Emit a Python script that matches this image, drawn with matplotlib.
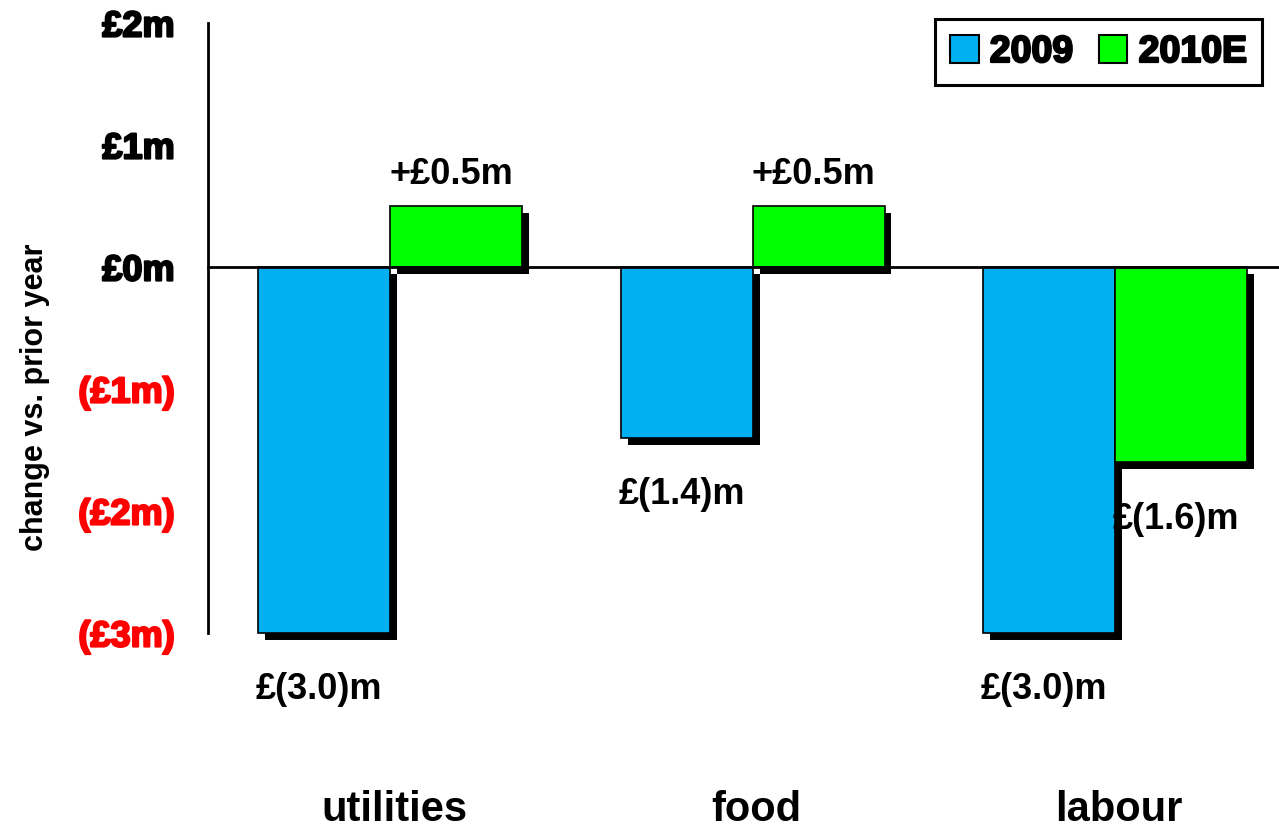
import matplotlib
matplotlib.use("Agg")
import matplotlib.pyplot as plt
import matplotlib.patheffects as pe
import numpy as np

categories = ["utilities", "food", "labour"]
series_names = ["2009", "2010E"]
values_2009 = [-3.0, -1.4, -3.0]
values_2010 = [0.5, 0.5, -1.6]
labels_2009 = ["£(3.0)m", "£(1.4)m", "£(3.0)m"]
labels_2010 = ["+£0.5m", "+£0.5m", "£(1.6)m"]
ytick_values = [2, 1, 0, -1, -2, -3]
ytick_labels = ["£2m", "£1m", "£0m", "(£1m)", "(£2m)", "(£3m)"]
ytick_colors = ["black", "black", "black", "red", "red", "red"]

BLUE = "#00B0F0"
GREEN = "#00FF00"
FONT = "Liberation Sans"

fig = plt.figure(figsize=(12.79, 8.29), dpi=100)
ax = fig.add_axes([208 / 1279, 1 - 634 / 829, 1 - 208 / 1279, (634 - 24) / 829])

x = np.arange(len(categories))
w = 0.364
shadow = [pe.SimplePatchShadow(offset=(5, -5), shadow_rgbFace="black", alpha=1.0), pe.Normal()]

b1 = ax.bar(x - w / 2, values_2009, w, color=BLUE, edgecolor="black", linewidth=1.2,
            label=series_names[0], zorder=2, clip_on=False)
b2 = ax.bar(x + w / 2, values_2010, w, color=GREEN, edgecolor="black", linewidth=1.2,
            label=series_names[1], zorder=3, clip_on=False)
for bars in (b1, b2):
    for r in bars:
        r.set_path_effects(shadow)

ax.axhline(0, color="black", linewidth=2, zorder=4, clip_on=False)

ax.set_xlim(-0.502, 2.452)
ax.set_ylim(-3, 2)

for s in ["top", "right", "bottom"]:
    ax.spines[s].set_visible(False)
ax.spines["left"].set_linewidth(2)
ax.set_xticks([])
ax.set_yticks(ytick_values)
ax.set_yticklabels(ytick_labels)
ax.tick_params(axis="y", length=0, pad=24)
for lbl, c in zip(ax.get_yticklabels(), ytick_colors):
    lbl.set_color(c)
    lbl.set_fontsize(26)
    lbl.set_fontweight("bold")
    lbl.set_family(FONT)
    lbl.set_path_effects([pe.withStroke(linewidth=1.6, foreground=c)])

fig.text(35 / 1279, 1 - 397 / 829, "change vs. prior year", rotation=90, ha="center", va="center",
         fontsize=22, fontweight="bold", family=FONT)

def put_labels(xs, vals, texts):
    for xi, v, t in zip(xs, vals, texts):
        if v >= 0:
            ax.annotate(t, (xi, v), xytext=(-5, 32), textcoords="offset pixels",
                        ha="center", va="center", fontsize=26, fontweight="bold", family=FONT,
                        annotation_clip=False)
        else:
            ax.annotate(t, (xi, v), xytext=(-5, -56), textcoords="offset pixels",
                        ha="center", va="center", fontsize=26, fontweight="bold", family=FONT,
                        annotation_clip=False)

put_labels(x - w / 2, values_2009, labels_2009)
put_labels(x + w / 2, values_2010, labels_2010)

for xi, c in zip(x, categories):
    ax.annotate(c, (xi, -3), xytext=(4, -176), textcoords="offset pixels",
                ha="center", va="center", fontsize=30, fontweight="bold", family=FONT,
                annotation_clip=False)

leg = ax.legend(loc="upper right", bbox_to_anchor=((1262 - 208) / 1071, (634 - 20) / 610), ncol=2,
                frameon=True, fancybox=False, edgecolor="black", framealpha=1.0,
                handlelength=0.75, handleheight=0.75, handletextpad=0.3, columnspacing=0.7,
                borderpad=0.4, borderaxespad=0.0,
                prop={"family": FONT, "weight": "bold", "size": 27})
leg.get_frame().set_linewidth(2.2)
for h in leg.legend_handles:
    h.set_path_effects([])
    h.set_linewidth(1.5)
for t in leg.get_texts():
    t.set_path_effects([pe.withStroke(linewidth=1.6, foreground="black")])

fig.savefig("out.png", dpi=100)
